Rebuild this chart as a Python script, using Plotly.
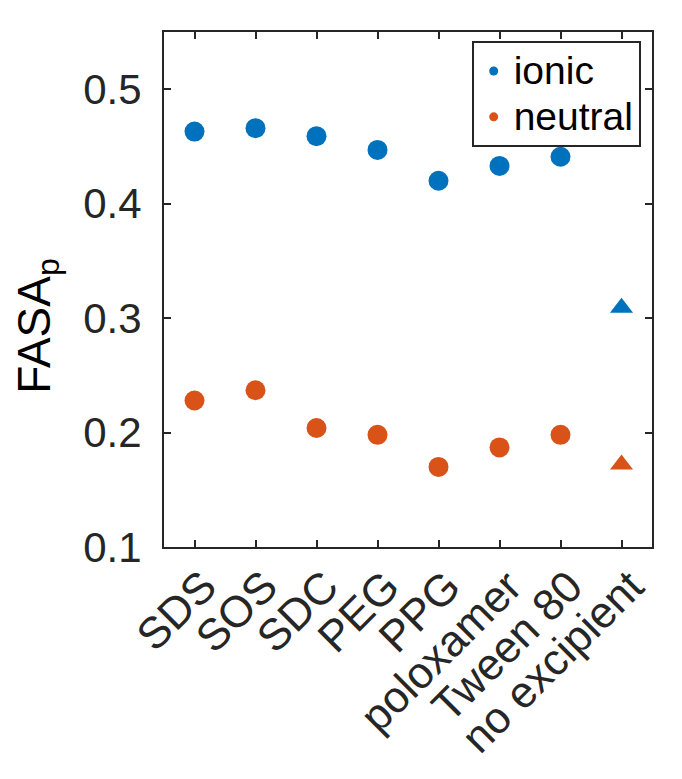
import plotly.graph_objects as go

excipients = ["SDS", "SOS", "SDC", "PEG", "PPG", "poloxamer", "Tween 80", "no excipient"]
ionic = [0.463, 0.466, 0.459, 0.447, 0.420, 0.433, 0.441, 0.309]
neutral = [0.228, 0.237, 0.204, 0.198, 0.170, 0.187, 0.198, 0.172]
symbols = ["circle"] * 7 + ["triangle-up"]

blue = "#0072BD"
orange = "#D95319"
axis_col = "#262626"
font = "Liberation Sans, Arial, Helvetica, sans-serif"

fig = go.Figure()

for name, vals, col in [("ionic", ionic, blue), ("neutral", neutral, orange)]:
    fig.add_trace(go.Scatter(
        x=excipients, y=vals, mode="markers", name=name, showlegend=False,
        marker=dict(color=col, size=20, symbol=symbols, line=dict(width=0)),
    ))
    # small glyph for the legend only (bigger text, tight rows)
    fig.add_trace(go.Scatter(
        x=[None], y=[None], mode="markers",
        name="<span style='font-size:39px'>%s</span>" % name,
        marker=dict(color=col, size=9, symbol="circle"),
    ))

fig.update_xaxes(
    type="category", range=[-0.5, 7.5], tickangle=-45,
    showline=True, mirror="ticks", linecolor=axis_col, linewidth=2,
    ticks="inside", ticklen=7, tickwidth=2, tickcolor=axis_col,
    showgrid=False, zeroline=False, ticklabelstandoff=-6, ticklabelshift=9,
    tickfont=dict(family=font, size=44, color=axis_col),
)
fig.update_yaxes(
    range=[0.1, 0.55], tickvals=[0.1, 0.2, 0.3, 0.4, 0.5],
    ticktext=["0.1", "0.2", "0.3", "0.4", "0.5"],
    showline=True, mirror="ticks", linecolor=axis_col, linewidth=2,
    ticks="inside", ticklen=7, tickwidth=2, tickcolor=axis_col,
    showgrid=False, zeroline=False, ticklabelstandoff=12,
    tickfont=dict(family=font, size=42, color=axis_col),
)

# y label sits a bit below the axis centre in the reference
fig.add_annotation(
    text="FASA<sub>p</sub>", textangle=-90, showarrow=False,
    xref="paper", yref="paper", x=-0.26, y=0.43,
    xanchor="center", yanchor="middle",
    font=dict(family=font, size=46, color="black"),
)

fig.update_layout(
    width=674, height=771,
    margin=dict(l=156, r=30, t=24, b=232, autoexpand=False),
    plot_bgcolor="white", paper_bgcolor="white",
    legend=dict(
        x=0.6305, y=0.9825, xanchor="left", yanchor="top",
        bgcolor="white", bordercolor=axis_col, borderwidth=2,
        font=dict(family=font, size=33, color="black"),
        itemwidth=30, tracegroupgap=0,
    ),
)

fig.write_html("out.html")
